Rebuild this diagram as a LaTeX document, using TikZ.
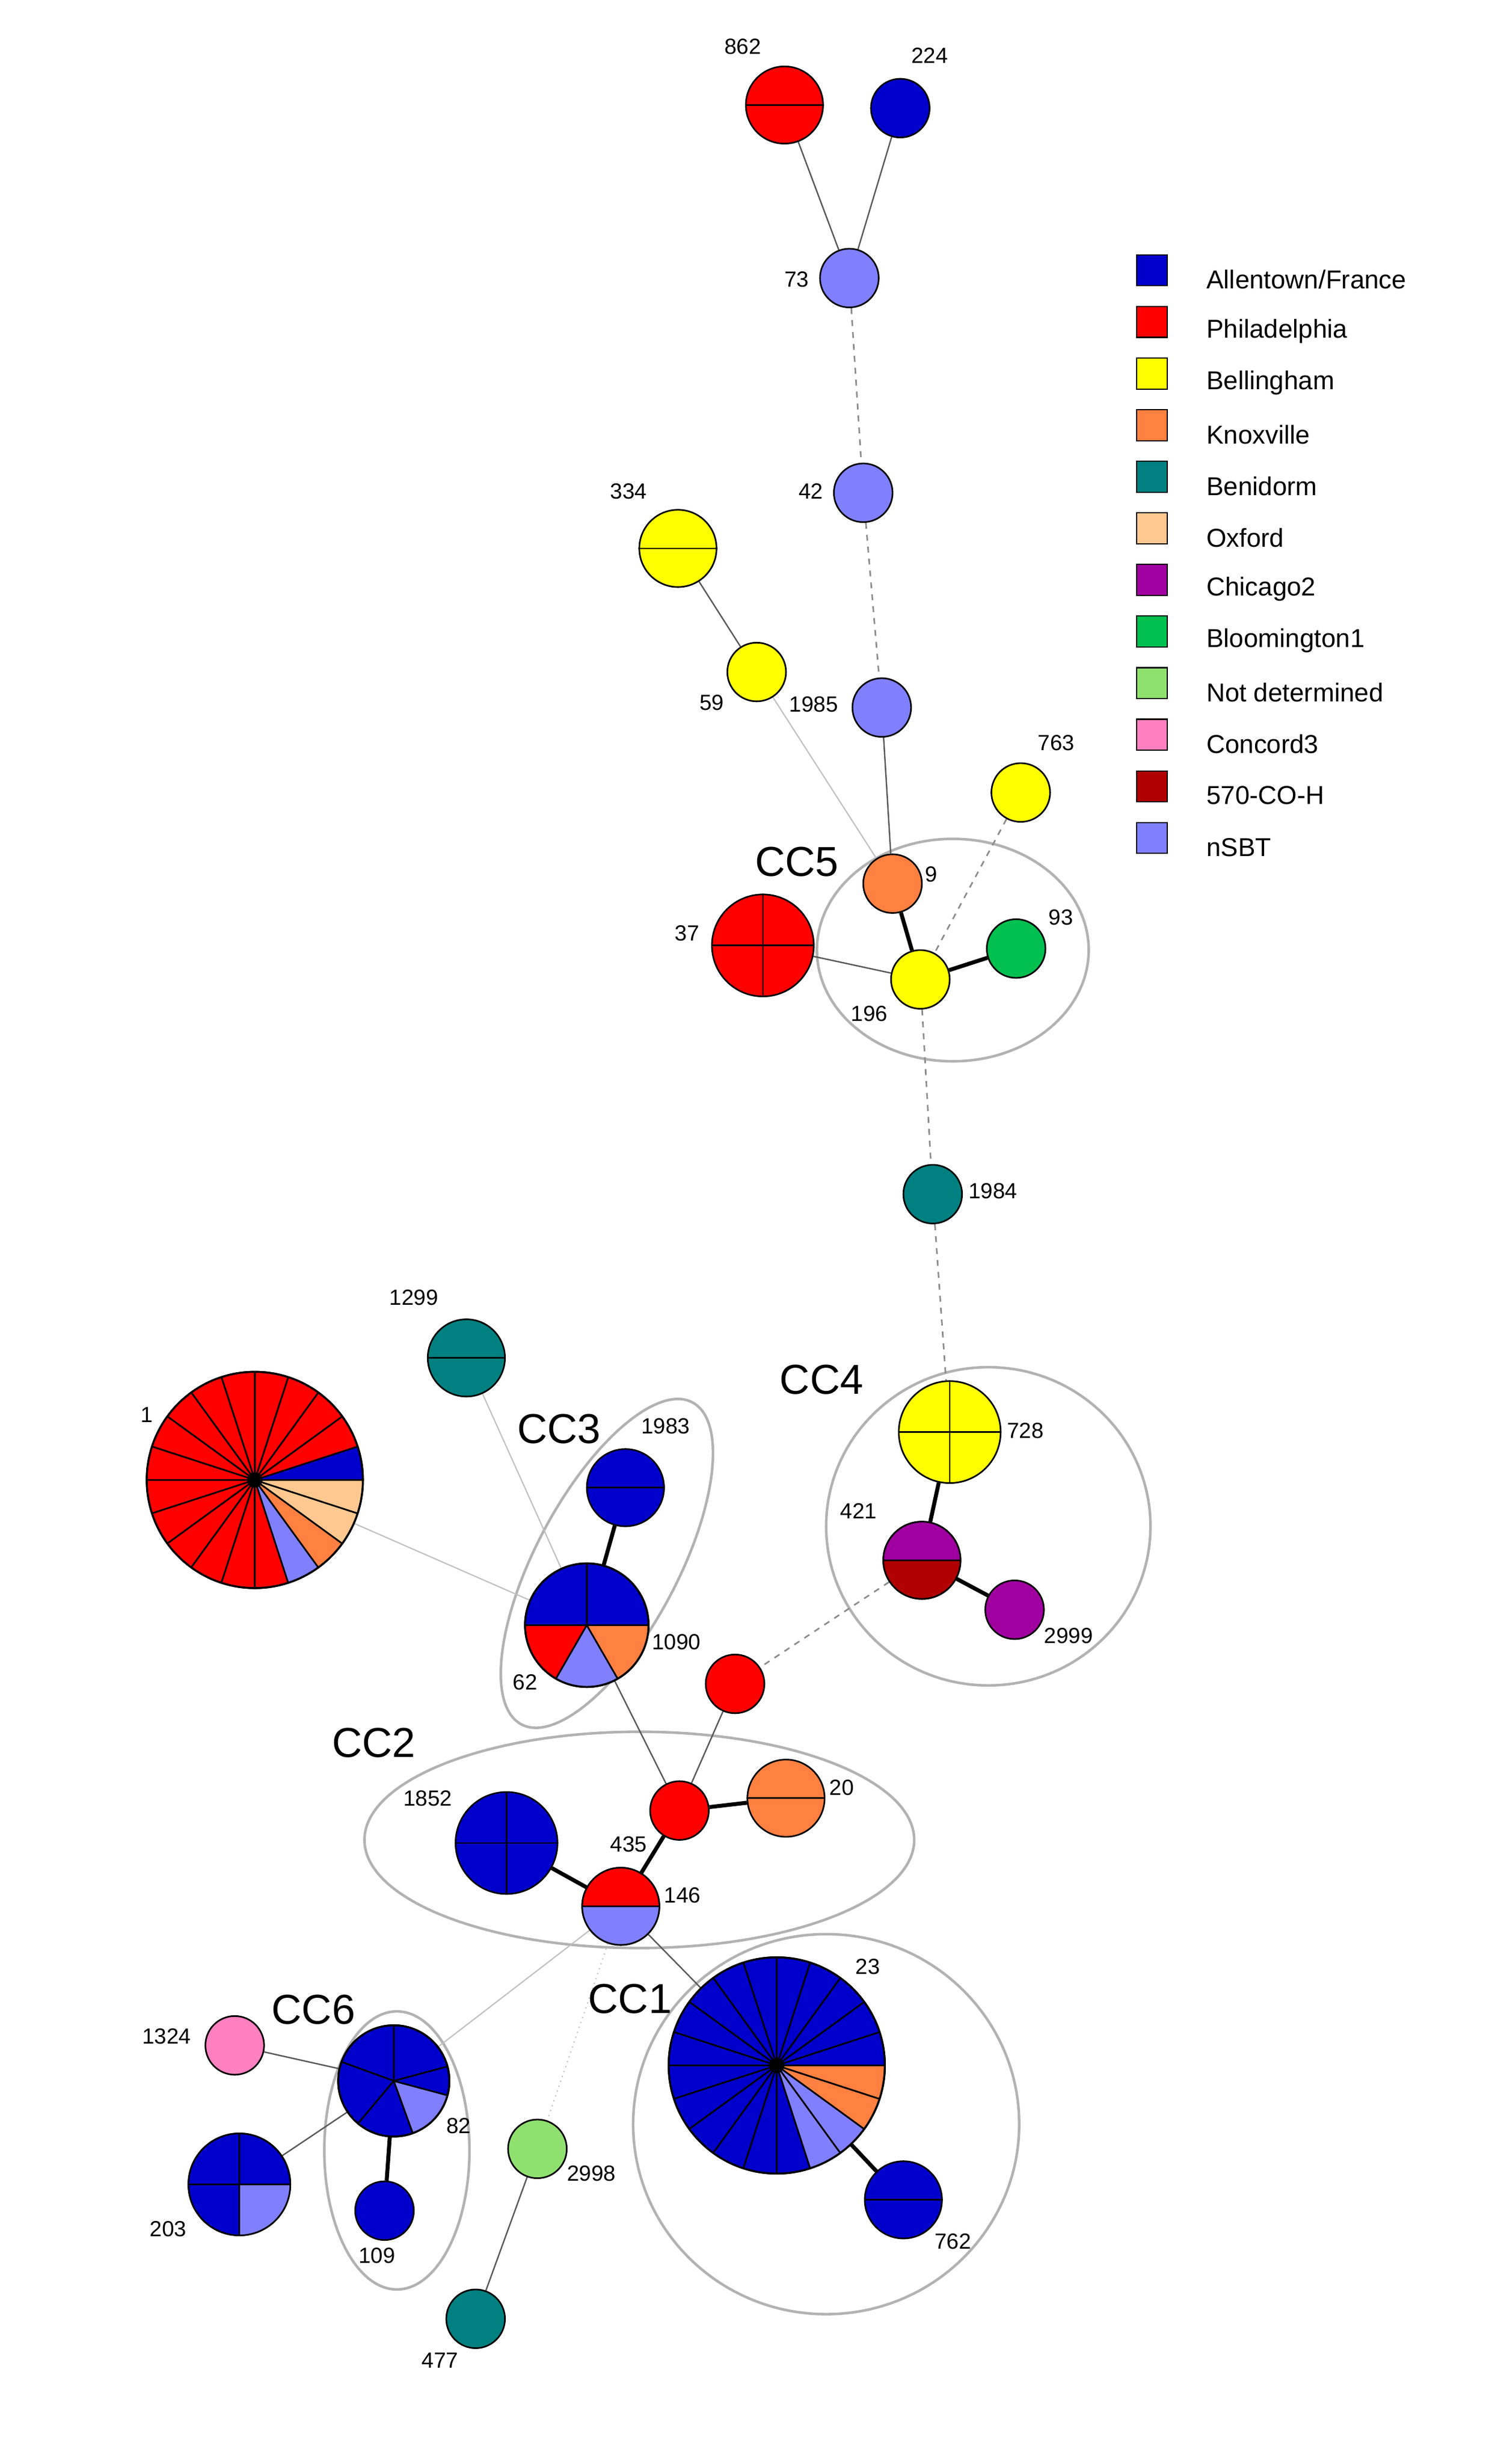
\documentclass[tikz,border=0pt]{standalone}
\usepackage{fontspec}
\setmainfont{Liberation Sans}
\usetikzlibrary{backgrounds}
\definecolor{cA}{HTML}{0000CC}
\definecolor{cP}{HTML}{FF0000}
\definecolor{cB}{HTML}{FFFF00}
\definecolor{cK}{HTML}{FF8040}
\definecolor{cBe}{HTML}{008080}
\definecolor{cO}{HTML}{FFC890}
\definecolor{cC}{HTML}{A000A0}
\definecolor{cBl}{HTML}{00C050}
\definecolor{cN}{HTML}{90E070}
\definecolor{cCo}{HTML}{FF80C0}
\definecolor{cH}{HTML}{B00000}
\definecolor{cS}{HTML}{8080FF}
\def\U{0.02727cm}
\newcommand{\hsplit}[1]{\draw[line width=0.8pt] (#1.west) -- (#1.east);}
\newcommand{\xsplit}[1]{\draw[line width=0.8pt] (#1.west) -- (#1.east) (#1.north) -- (#1.south);}
\newcommand{\halfs}[4]{\begin{scope}[shift={(#1.center)}]
\fill[#3] (0:#2*\U) arc[start angle=0,end angle=180,radius=#2*\U] -- cycle;
\fill[#4] (180:#2*\U) arc[start angle=180,end angle=360,radius=#2*\U] -- cycle;
\draw[line width=0.8pt] (0,0) circle[radius=#2*\U] (180:#2*\U) -- (0:#2*\U);
\end{scope}}
\newcommand{\wedges}[3]{\begin{scope}[shift={(#1.center)}]
\foreach \a/\b/\c in {#3}{\filldraw[fill=\c,draw=black,line width=0.8pt,line join=round] (0,0) -- (\a:#2*\U) arc[start angle=\a,end angle=\b,radius=#2*\U] -- cycle;}
\draw[line width=1pt] (0,0) circle[radius=#2*\U];
\end{scope}}
\begin{document}
\begin{tikzpicture}[x=0.02727cm,y=-0.02727cm,
 nd/.style={circle,draw,line width=0.8pt,inner sep=0pt,minimum size={2*#1*0.02727cm}},
 lb/.style={font=\fontsize{11}{13}\selectfont,inner sep=0pt},
 cc/.style={font=\fontsize{21}{24}\selectfont,inner sep=0pt},
 lg/.style={font=\fontsize{13}{15}\selectfont,inner sep=0pt,anchor=west},
 sq/.style={draw,line width=0.6pt,inner sep=0pt,minimum size={20*0.02727cm}},
 ethin/.style={draw=black!65,line width=0.7pt},
 ethick/.style={draw=black,line width=2pt},
 efaint/.style={draw=black!25,line width=0.6pt},
 edash/.style={draw=black!45,line width=0.8pt,dashed},
 ell/.style={draw=black!30,line width=1.3pt}]
\useasboundingbox (0,0) rectangle (970,1595);
\node[nd=25,fill=cP] (n862) at (508,68) {};
\node[nd=19,fill=cA] (n224) at (583,70) {};
\node[nd=19,fill=cS] (n73) at (550,180) {};
\node[nd=19,fill=cS] (n42) at (559,319) {};
\node[nd=25,fill=cB] (n334) at (439,355) {};
\node[nd=19,fill=cB] (n59) at (490,435) {};
\node[nd=19,fill=cS] (n1985) at (571,458) {};
\node[nd=19,fill=cB] (n763) at (661,513) {};
\node[nd=19,fill=cK] (n9) at (578,572) {};
\node[nd=19,fill=cBl] (n93) at (658,614) {};
\node[nd=33,fill=cP] (n37) at (494,612) {};
\node[nd=19,fill=cB] (n196) at (596,634) {};
\node[nd=19,fill=cBe] (n1984) at (604,773) {};
\node[nd=25,fill=cBe] (n1299) at (302,879) {};
\node[nd=70] (n1) at (165,958) {};
\node[nd=25,fill=cA] (n1983) at (405,963) {};
\node[nd=40] (n62) at (380,1052) {};
\node[nd=33,fill=cB] (n728) at (615,927) {};
\node[nd=25] (n421) at (597,1010) {};
\node[nd=19,fill=cC] (n2999) at (657,1042) {};
\node[nd=19,fill=cP] (nr) at (476,1090) {};
\node[nd=19,fill=cP] (n435) at (440,1172) {};
\node[nd=25,fill=cK] (n20) at (509,1164) {};
\node[nd=33,fill=cA] (n1852) at (328,1193) {};
\node[nd=25] (n146) at (402,1234) {};
\node[nd=70] (n23) at (503,1337) {};
\node[nd=25,fill=cA] (n762) at (585,1424) {};
\node[nd=36] (n82) at (255,1347) {};
\node[nd=19,fill=cCo] (n1324) at (152,1324) {};
\node[nd=33,fill=cA] (n203) at (155,1414) {};
\node[nd=19,fill=cA] (n109) at (249,1431) {};
\node[nd=19,fill=cN] (n2998) at (348,1391) {};
\node[nd=19,fill=cBe] (n477) at (308,1501) {};
\hsplit{n862}\hsplit{n334}\xsplit{n37}\hsplit{n1299}\hsplit{n1983}\xsplit{n728}\hsplit{n20}\xsplit{n1852}\hsplit{n762}
\halfs{n421}{25}{cC}{cH}
\halfs{n146}{25}{cP}{cS}
\begin{scope}[shift={(n203.center)}]
\fill[cS] (0,0) -- (270:33*\U) arc[start angle=270,end angle=360,radius=33*\U] -- cycle;
\end{scope}
\xsplit{n203}
\draw[line width=0.8pt] (n203) circle[radius=33*\U];
\wedges{n1}{70}{0/18/cA,18/36/cP,36/54/cP,54/72/cP,72/90/cP,90/108/cP,108/126/cP,126/144/cP,144/162/cP,162/180/cP,180/198/cP,198/216/cP,216/234/cP,234/252/cP,252/270/cP,270/288/cP,288/306/cS,306/324/cK,324/342/cO,342/360/cO}
\fill[black] (n1.center) circle[radius=5*\U];
\wedges{n23}{70}{0/18/cA,18/36/cA,36/54/cA,54/72/cA,72/90/cA,90/108/cA,108/126/cA,126/144/cA,144/162/cA,162/180/cA,180/198/cA,198/216/cA,216/234/cA,234/252/cA,252/270/cA,270/288/cA,288/306/cS,306/324/cS,324/342/cK,342/360/cK}
\fill[black] (n23.center) circle[radius=5*\U];
\wedges{n62}{40}{0/90/cA,90/180/cA,180/240/cP,240/300/cS,300/360/cK}
\wedges{n82}{36}{15/90/cA,90/160/cA,160/230/cA,230/290/cA,290/345/cS,345/375/cA}
\begin{pgfonlayer}{background}
\fill[white] (0,0) rectangle (970,1595);
\draw[ell] (617,615) ellipse[x radius=88*\U, y radius=72*\U];
\draw[ell] (640,988) ellipse[x radius=105*\U, y radius=103*\U];
\draw[ell] (414,1191) ellipse[x radius=178*\U, y radius=70*\U];
\draw[ell] (535,1375) ellipse[x radius=125*\U, y radius=123*\U];
\draw[ell] (257,1392) ellipse[x radius=47*\U, y radius=90*\U];
\draw[ell] (393,1012) ellipse[x radius=118*\U, y radius=46*\U, rotate=62];
\draw[ethin] (n862) -- (n73);
\draw[ethin] (n224) -- (n73);
\draw[edash] (n73) -- (n42);
\draw[edash] (n42) -- (n1985);
\draw[ethin] (n1985) -- (n9);
\draw[ethin] (n334) -- (n59);
\draw[efaint] (n59) -- (n9);
\draw[ethick] (n9) -- (n196);
\draw[edash] (n763) -- (n196);
\draw[ethick] (n93) -- (n196);
\draw[ethin] (n37) -- (n196);
\draw[edash] (n196) -- (n1984);
\draw[edash] (n1984) -- (n728);
\draw[ethick] (n728) -- (n421);
\draw[ethick] (n421) -- (n2999);
\draw[edash] (n421) -- (nr);
\draw[ethin] (nr) -- (n435);
\draw[ethick] (n20) -- (n435);
\draw[ethin] (n62) -- (n435);
\draw[ethick] (n1983) -- (n62);
\draw[efaint] (n1) -- (n62);
\draw[efaint] (n1299) -- (n62);
\draw[ethick] (n435) -- (n146);
\draw[ethick] (n1852) -- (n146);
\draw[ethin] (n146) -- (n23);
\draw[ethick] (n23) -- (n762);
\draw[efaint] (n146) -- (n82);
\draw[efaint,dotted] (n146) -- (n2998);
\draw[ethin] (n2998) -- (n477);
\draw[ethin] (n82) -- (n1324);
\draw[ethin] (n82) -- (n203);
\draw[ethick] (n82) -- (n109);
\end{pgfonlayer}
\node[lb] (l862) at (481,30) {862};
\node[lb] (l224) at (602,36) {224};
\node[lb] (l73) at (516,181) {73};
\node[lb] (l42) at (525,318) {42};
\node[lb] (l334) at (407,318) {334};
\node[lb] (l59) at (461,455) {59};
\node[lb] (l1985) at (527,456) {1985};
\node[lb] (l763) at (684,481) {763};
\node[lb] (l9) at (603,566) {9};
\node[lb] (l93) at (687,594) {93};
\node[lb] (l37) at (445,604) {37};
\node[lb] (l196) at (563,656) {196};
\node[lb] (l1984) at (643,771) {1984};
\node[lb] (l1299) at (268,840) {1299};
\node[lb] (l1) at (95,916) {1};
\node[lb] (l1983) at (431,923) {1983};
\node[lb] (l1090) at (438,1063) {1090};
\node[lb] (l62) at (340,1089) {62};
\node[lb] (l728) at (664,926) {728};
\node[lb] (l421) at (556,978) {421};
\node[lb] (l2999) at (692,1059) {2999};
\node[lb] (l435) at (407,1194) {435};
\node[lb] (l20) at (545,1157) {20};
\node[lb] (l1852) at (277,1164) {1852};
\node[lb] (l146) at (442,1227) {146};
\node[lb] (l23) at (562,1273) {23};
\node[lb] (l762) at (617,1451) {762};
\node[lb] (l82) at (297,1376) {82};
\node[lb] (l1324) at (108,1318) {1324};
\node[lb] (l203) at (109,1443) {203};
\node[lb] (l109) at (244,1460) {109};
\node[lb] (l2998) at (383,1407) {2998};
\node[lb] (l477) at (285,1528) {477};
\node[cc] (cc5) at (516,558) {CC5};
\node[cc] (cc4) at (532,893) {CC4};
\node[cc] (cc3) at (362,925) {CC3};
\node[cc] (cc2) at (242,1128) {CC2};
\node[cc] (cc1) at (408,1294) {CC1};
\node[cc] (cc6) at (203,1301) {CC6};
\foreach \i/\c/\t in {0/cA/Allentown\slash France,1/cP/Philadelphia,2/cB/Bellingham,3/cK/Knoxville,4/cBe/Benidorm,5/cO/Oxford,6/cC/Chicago2,7/cBl/Bloomington1,8/cN/Not determined,9/cCo/Concord3,10/cH/570-CO-H,11/cS/nSBT}{
 \node[sq,fill=\c] (s\i) at (746,{175+33.4*\i}) {};
 \node[lg] (t\i) at (781,{181+33.4*\i}) {\t};
}
\end{tikzpicture}
\end{document}
